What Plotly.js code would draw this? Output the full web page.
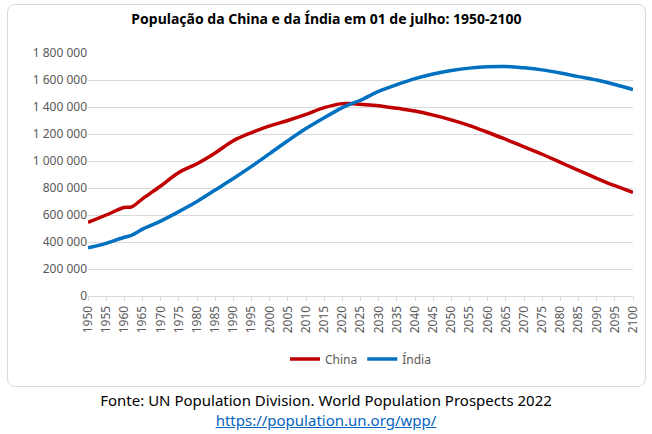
<!DOCTYPE html><html><head><meta charset="utf-8">
<script src="https://cdn.plot.ly/plotly-3.0.1.min.js"></script>
<style>
body{margin:0;background:#fff;font-family:"Noto Sans",sans-serif;}
#box{position:absolute;left:7px;top:4px;width:637px;height:381px;border:1px solid #d9d9d9;border-radius:8px;}
#chart{position:absolute;left:0;top:0;width:637px;height:381px;}
#src{position:absolute;left:0;width:652px;top:390px;text-align:center;font-size:15px;line-height:20px;color:#000;}
#src a{color:#0563c1;}
</style></head><body>
<div id="box"><div id="chart"></div></div>
<div id="src">Fonte: UN Population Division. World Population Prospects 2022<br><a href="#">https://population.un.org/wpp/</a></div>
<script>
const years=[1950,1955,1960,1962,1965,1970,1975,1980,1985,1990,1995,2000,2005,2010,2015,2020,2022,2025,2030,2035,2040,2045,2050,2055,2060,2065,2070,2075,2080,2085,2090,2095,2100];
const china=[545,600,655,660,720,815,915,980,1060,1150,1210,1260,1300,1345,1395,1425,1426,1420,1410,1390,1370,1340,1305,1262,1213,1160,1105,1050,990,930,872,817,767].map(v=>v*1000);
const india=[357,390,435,450,495,555,625,700,785,870,960,1055,1150,1240,1320,1395,1420,1450,1515,1565,1610,1645,1670,1688,1698,1700,1690,1675,1652,1625,1600,1567,1530].map(v=>v*1000);
const xt=[];for(let y=1950;y<=2100;y+=5)xt.push(y);
Plotly.newPlot('chart',[
{x:years,y:china,name:'China',mode:'lines',line:{color:'#c00000',width:3.5,shape:'spline'}},
{x:years,y:india,name:'Índia',mode:'lines',line:{color:'#0070c0',width:3.5,shape:'spline'}}
],{
width:637,height:381,margin:{l:80,r:12,t:48,b:70},
paper_bgcolor:'rgba(0,0,0,0)',plot_bgcolor:'#fff',
separators:', ',
font:{family:'Noto Sans, sans-serif',size:12,color:'#595959'},
title:{text:'<b>População da China e da Índia em 01 de julho: 1950-2100</b>',x:0.5,y:0.975,font:{size:14,color:'#000'}},
xaxis:{range:[1950,2100],tickvals:xt,tickangle:-90,showgrid:false,showline:true,linecolor:'#d9d9d9',ticks:'outside',tickcolor:'#d9d9d9',ticklen:4,zeroline:false},
yaxis:{range:[0,1800000],dtick:200000,tickformat:',d',gridcolor:'#d9d9d9',zeroline:false,showline:false},
legend:{orientation:'h',x:0.5,xanchor:'center',y:-0.2,yanchor:'top',font:{size:12,color:'#595959'}},
showlegend:true
},{displayModeBar:false,staticPlot:true});
</script></body></html>
